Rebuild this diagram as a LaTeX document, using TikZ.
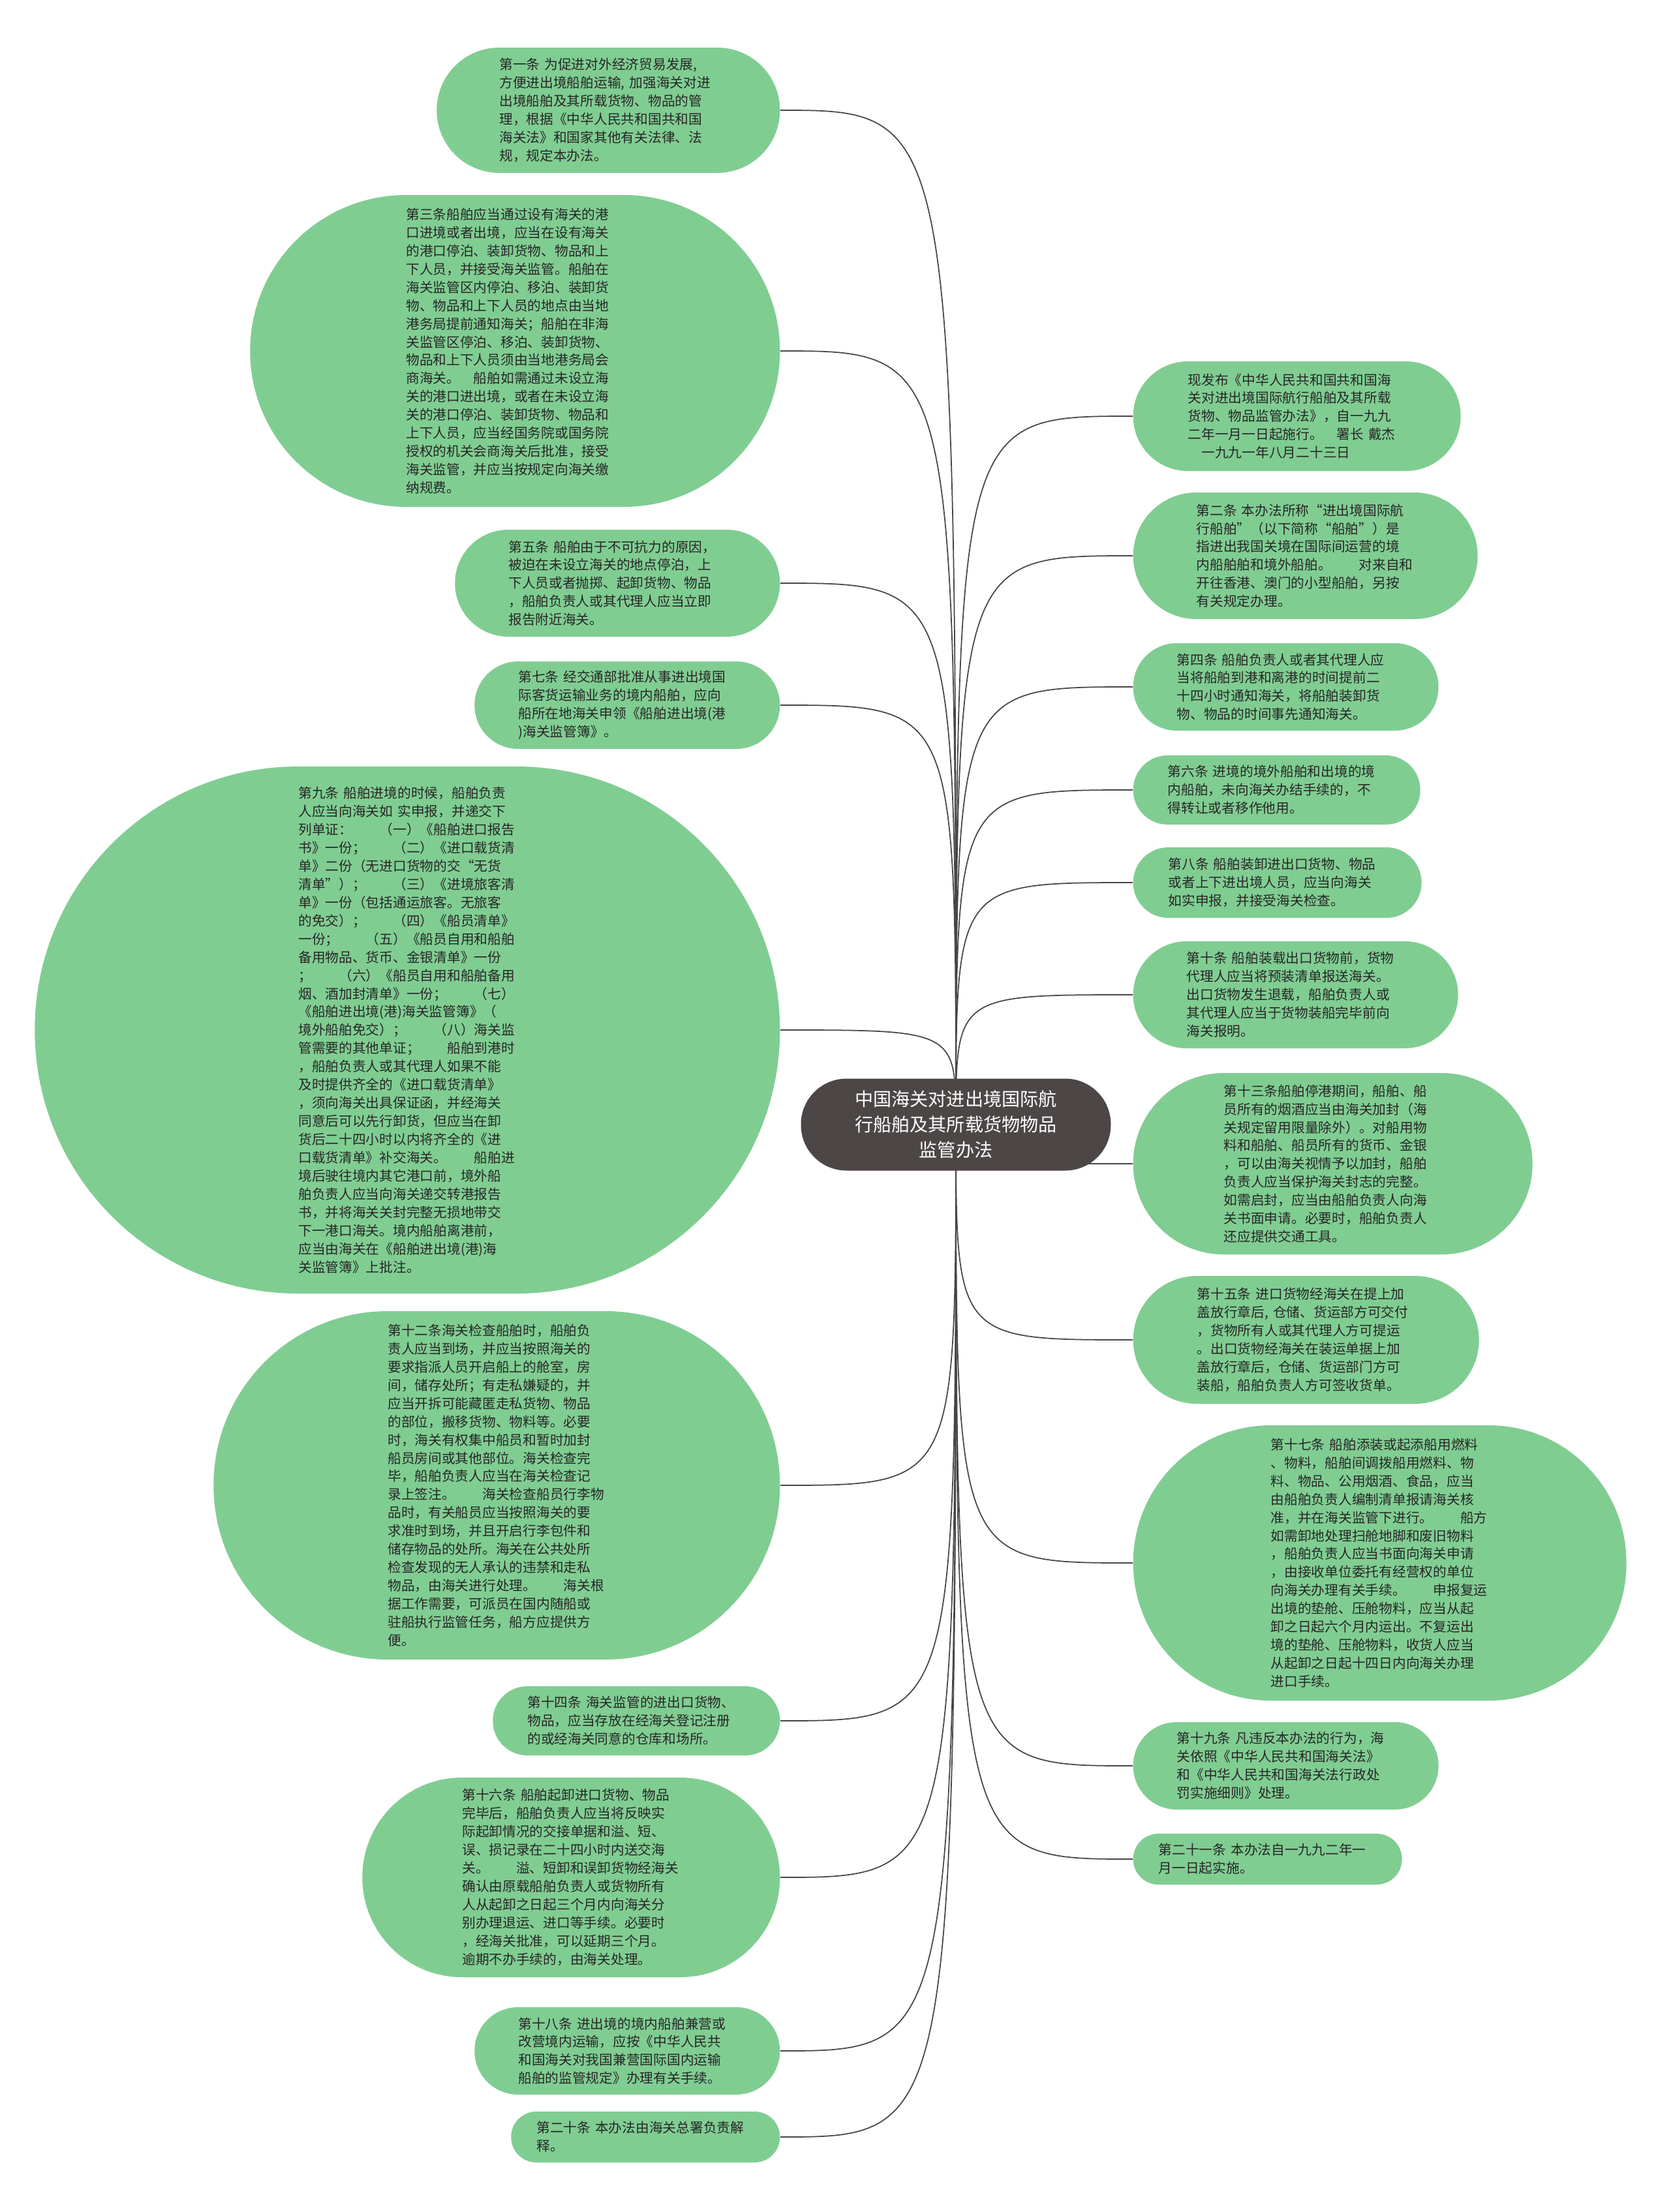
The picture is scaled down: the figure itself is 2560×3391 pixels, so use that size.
\documentclass[tikz,border=0pt]{standalone}
\usepackage{fontspec}
\setmainfont{Noto Sans CJK SC}
\usetikzlibrary{backgrounds}
\definecolor{leafgreen}{RGB}{128,205,146}
\definecolor{hubgray}{RGB}{76,71,70}
\definecolor{linkgray}{RGB}{70,70,70}

\begin{document}
\begin{tikzpicture}[x=0.1mm, y=-0.1mm,
    leaf/.style={rectangle, rounded corners=#1-0.02mm, fill=leafgreen, align=left, text width=33.4mm,
        inner xsep=#1, inner ysep=0pt, minimum height=2*#1,
        font=\fontsize{5.9pt}{7.95pt}\selectfont, text=black!85},
    hub/.style={rectangle, rounded corners=7mm, fill=hubgray, text=white, align=center, text width=33.4mm,
        inner xsep=7.05mm, inner ysep=0pt, minimum height=14.1mm,
        font=\fontsize{8pt}{11.1pt}\selectfont},
    link/.style={draw=linkgray, line width=0.5pt}]
\useasboundingbox (0,0) rectangle (2560,3391);

\node[hub] (root) at (1465,1724) {中国海关对进出境国际航\\行船舶及其所载货物物品\\监管办法};

% left side
\node[leaf=9.6mm, anchor=east] (a1) at (1196,169) {第一条 为促进对外经济贸易发展,\\方便进出境船舶运输, 加强海关对进\\出境船舶及其所载货物、物品的管\\理，根据《中华人民共和国共和国\\海关法》和国家其他有关法律、法\\规，规定本办法。};
\node[leaf=23.9mm, anchor=east] (a3) at (1196,538) {第三条船舶应当通过设有海关的港\\口进境或者出境，应当在设有海关\\的港口停泊、装卸货物、物品和上\\下人员，并接受海关监管。船舶在\\海关监管区内停泊、移泊、装卸货\\物、物品和上下人员的地点由当地\\港务局提前通知海关；船舶在非海\\关监管区停泊、移泊、装卸货物、\\物品和上下人员须由当地港务局会\\商海关。　船舶如需通过未设立海\\关的港口进出境，或者在未设立海\\关的港口停泊、装卸货物、物品和\\上下人员，应当经国务院或国务院\\授权的机关会商海关后批准，接受\\海关监管，并应当按规定向海关缴\\纳规费。};
\node[leaf=8.2mm, anchor=east] (a5) at (1196,894) {第五条 船舶由于不可抗力的原因，\\被迫在未设立海关的地点停泊，上\\下人员或者抛掷、起卸货物、物品\\，船舶负责人或其代理人应当立即\\报告附近海关。};
\node[leaf=6.7mm, anchor=east] (a7) at (1196,1081) {第七条 经交通部批准从事进出境国\\际客货运输业务的境内船舶，应向\\船所在地海关申领《船舶进出境(港\\)海关监管簿》。};
\node[leaf=40.4mm, anchor=east] (a9) at (1196,1579) {第九条 船舶进境的时候，船舶负责\\人应当向海关如 实申报，并递交下\\列单证：　　（一）《船舶进口报告\\书》一份；　　（二）《进口载货清\\单》二份（无进口货物的交“无货\\清单”）；　　（三）《进境旅客清\\单》一份（包括通运旅客。无旅客\\的免交）；　　（四）《船员清单》\\一份；　　（五）《船员自用和船舶\\备用物品、货币、金银清单》一份\\；　　（六）《船员自用和船舶备用\\烟、酒加封清单》一份；　　（七）\\《船舶进出境(港)海关监管簿》（\\境外船舶免交）；　　（八）海关监\\管需要的其他单证；　　船舶到港时\\，船舶负责人或其代理人如果不能\\及时提供齐全的《进口载货清单》\\，须向海关出具保证函，并经海关\\同意后可以先行卸货，但应当在卸\\货后二十四小时以内将齐全的《进\\口载货清单》补交海关。　　船舶进\\境后驶往境内其它港口前，境外船\\舶负责人应当向海关递交转港报告\\书，并将海关关封完整无损地带交\\下一港口海关。境内船舶离港前，\\应当由海关在《船舶进出境(港)海\\关监管簿》上批注。};
\node[leaf=26.7mm, anchor=east] (a12) at (1196,2277) {第十二条海关检查船舶时，船舶负\\责人应当到场，并应当按照海关的\\要求指派人员开启船上的舱室，房\\间，储存处所；有走私嫌疑的，并\\应当开拆可能藏匿走私货物、物品\\的部位，搬移货物、物料等。必要\\时，海关有权集中船员和暂时加封\\船员房间或其他部位。海关检查完\\毕，船舶负责人应当在海关检查记\\录上签注。　　海关检查船员行李物\\品时，有关船员应当按照海关的要\\求准时到场，并且开启行李包件和\\储存物品的处所。海关在公共处所\\检查发现的无人承认的违禁和走私\\物品，由海关进行处理。　　海关根\\据工作需要，可派员在国内随船或\\驻船执行监管任务，船方应提供方\\便。};
\node[leaf=5.3mm, anchor=east] (a14) at (1196,2638) {第十四条 海关监管的进出口货物、\\物品，应当存放在经海关登记注册\\的或经海关同意的仓库和场所。};
\node[leaf=15.3mm, anchor=east] (a16) at (1196,2878) {第十六条 船舶起卸进口货物、物品\\完毕后，船舶负责人应当将反映实\\际起卸情况的交接单据和溢、短、\\误、损记录在二十四小时内送交海\\关。　　溢、短卸和误卸货物经海关\\确认由原载船舶负责人或货物所有\\人从起卸之日起三个月内向海关分\\别办理退运、进口等手续。必要时\\，经海关批准，可以延期三个月。\\逾期不办手续的，由海关处理。};
\node[leaf=6.7mm, anchor=east] (a18) at (1196,3144) {第十八条 进出境的境内船舶兼营或\\改营境内运输，应按《中华人民共\\和国海关对我国兼营国际国内运输\\船舶的监管规定》办理有关手续。};
\node[leaf=3.9mm, anchor=east] (a20) at (1196,3276) {第二十条 本办法由海关总署负责解\\释。};

% right side
\node[leaf=8.4mm, anchor=west] (b0) at (1736,638) {现发布《中华人民共和国共和国海\\关对进出境国际航行船舶及其所载\\货物、物品监管办法》，自一九九\\二年一月一日起施行。　署长~戴杰\\　一九九一年八月二十三日};
\node[leaf=9.7mm, anchor=west] (b2) at (1736,852) {第二条 本办法所称“进出境国际航\\行船舶”（以下简称“船舶”）是\\指进出我国关境在国际间运营的境\\内船舶舶和境外船舶。　　对来自和\\开往香港、澳门的小型船舶，另按\\有关规定办理。};
\node[leaf=6.7mm, anchor=west] (b4) at (1736,1053) {第四条 船舶负责人或者其代理人应\\当将船舶到港和离港的时间提前二\\十四小时通知海关，将船舶装卸货\\物、物品的时间事先通知海关。};
\node[leaf=5.3mm, anchor=west] (b6) at (1736,1211) {第六条 进境的境外船舶和出境的境\\内船舶，未向海关办结手续的，不\\得转让或者移作他用。};
\node[leaf=5.4mm, anchor=west] (b8) at (1736,1353) {第八条 船舶装卸进出口货物、物品\\或者上下进出境人员，应当向海关\\如实申报，并接受海关检查。};
\node[leaf=8.2mm, anchor=west] (b10) at (1736,1525) {第十条 船舶装载出口货物前，货物\\代理人应当将预装清单报送海关。\\出口货物发生退载，船舶负责人或\\其代理人应当于货物装船完毕前向\\海关报明。};
\node[leaf=13.9mm, anchor=west] (b13) at (1736,1784) {第十三条船舶停港期间，船舶、船\\员所有的烟酒应当由海关加封（海\\关规定留用限量除外）。对船用物\\料和船舶、船员所有的货币、金银\\，可以由海关视情予以加封，船舶\\负责人应当保护海关封志的完整。\\如需启封，应当由船舶负责人向海\\关书面申请。必要时，船舶负责人\\还应提供交通工具。};
\node[leaf=9.8mm, anchor=west] (b15) at (1736,2054) {第十五条 进口货物经海关在提上加\\盖放行章后, 仓储、货运部方可交付\\，货物所有人或其代理人方可提运\\。出口货物经海关在装运单据上加\\盖放行章后，仓储、货运部门方可\\装船，船舶负责人方可签收货单。};
\node[leaf=21.1mm, anchor=west] (b17) at (1736,2396) {第十七条 船舶添装或起添船用燃料\\、物料，船舶间调拨船用燃料、物\\料、物品、公用烟酒、食品，应当\\由船舶负责人编制清单报请海关核\\准，并在海关监管下进行。　　船方\\如需卸地处理扫舱地脚和废旧物料\\，船舶负责人应当书面向海关申请\\，由接收单位委托有经营权的单位\\向海关办理有关手续。　　申报复运\\出境的垫舱、压舱物料，应当从起\\卸之日起六个月内运出。不复运出\\境的垫舱、压舱物料，收货人应当\\从起卸之日起十四日内向海关办理\\进口手续。};
\node[leaf=6.7mm, anchor=west] (b19) at (1736,2707) {第十九条 凡违反本办法的行为，海\\关依照《中华人民共和国海关法》\\和《中华人民共和国海关法行政处\\罚实施细则》处理。};
\node[leaf=3.9mm, anchor=west] (b21) at (1736,2850) {第二十一条 本办法自一九九二年一\\月一日起实施。};

\begin{pgfonlayer}{background}
\fill[white] (0,0) rectangle (2560,3391);
\foreach \n in {a1,a3,a5,a7,a9,a12,a14,a16,a18,a20}
    \draw[link] (root.center) .. controls (root.center |- \n.east) .. (\n.east);
\foreach \n in {b0,b2,b4,b6,b8,b10,b13,b15,b17,b19,b21}
    \draw[link] (root.center) .. controls (root.center |- \n.west) .. (\n.west);
\end{pgfonlayer}
\end{tikzpicture}
\end{document}
